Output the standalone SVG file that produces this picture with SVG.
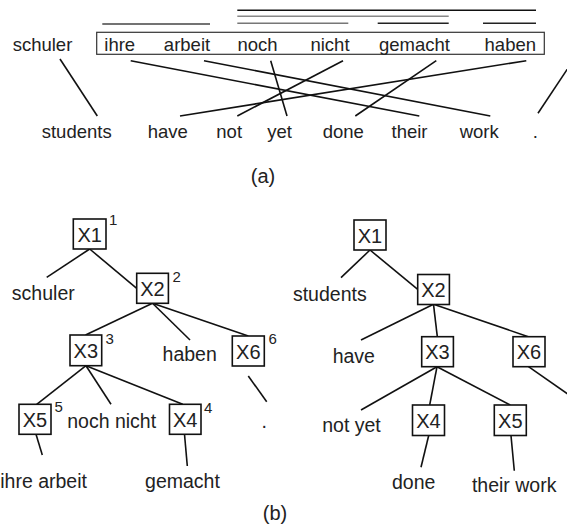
<svg xmlns="http://www.w3.org/2000/svg" width="567" height="525" viewBox="0 0 567 525">
<style>
text{font-family:"Liberation Sans",Arial,sans-serif;fill:#222;text-anchor:middle}
.a{font-size:18.5px}
.t{font-size:19.5px}
.bx{font-size:20px}
.sup{font-size:15px;text-anchor:start}
.cap{font-size:20px}
.box{fill:#fff;stroke:#111;stroke-width:1.6}
.c line{stroke:#111;stroke-width:1.6;fill:none}
.ov line{stroke-width:1.4}
</style>
<rect width="567" height="525" fill="#fff"/>
<!-- part (a) -->
<g id="source-box"><rect x="96.7" y="32.3" width="447.6" height="22" fill="none" stroke="#333" stroke-width="1.2"/></g>
<g id="overlines" class="ov">
<line x1="102.3" y1="24" x2="210" y2="24" stroke="#444"/>
<line x1="237.3" y1="10.3" x2="536" y2="10.3" stroke="#111"/>
<line x1="237.3" y1="16.3" x2="448.7" y2="16.3" stroke="#888" stroke-width="2"/>
<line x1="237.3" y1="23.3" x2="348.3" y2="23.3" stroke="#777" stroke-width="1.8"/>
<line x1="377.7" y1="23.3" x2="448.7" y2="23.3" stroke="#222"/>
<line x1="483" y1="23.3" x2="536" y2="23.3" stroke="#222"/>
</g>
<g id="src-words" class="a">
<text id="w-schuler" x="42.5" y="50.7">schuler</text>
<text id="w-ihre" x="119.7" y="50.7">ihre</text>
<text id="w-arbeit" x="187" y="50.7">arbeit</text>
<text id="w-noch" x="257.5" y="50.7">noch</text>
<text id="w-nicht" x="330" y="50.7">nicht</text>
<text id="w-gemacht" x="414.5" y="50.7">gemacht</text>
<text id="w-haben" x="510.3" y="50.7">haben</text>
</g>
<g id="tgt-words" class="a">
<text id="w-students" x="76.7" y="137.7">students</text>
<text id="w-have" x="167.8" y="137.7">have</text>
<text id="w-not" x="229.2" y="137.7">not</text>
<text id="w-yet" x="279.5" y="137.7">yet</text>
<text id="w-done" x="343.3" y="137.7">done</text>
<text id="w-their" x="409.5" y="137.7">their</text>
<text id="w-work" x="479.2" y="137.7">work</text>
<text id="w-dot" x="535.3" y="137.7">.</text>
</g>
<g id="alignments" class="c">
<line x1="60" y1="59" x2="97.3" y2="116"/>
<line x1="130.7" y1="60.7" x2="419.3" y2="116"/>
<line x1="204" y1="60.7" x2="490.3" y2="116"/>
<line x1="270.7" y1="60.7" x2="287" y2="116"/>
<line x1="343" y1="60.7" x2="237.3" y2="116"/>
<line x1="436.3" y1="60.7" x2="355.3" y2="116"/>
<line x1="526.3" y1="60.7" x2="180" y2="116"/>
<line x1="572.9" y1="60.7" x2="538" y2="113.3"/>
</g>
<text id="cap-a" class="cap" x="263" y="183">(a)</text>
<!-- part (b) left tree -->
<g id="left-tree-edges" class="c">
<line x1="89.7" y1="249" x2="46.7" y2="277.3"/>
<line x1="89.7" y1="249" x2="136.7" y2="288.3"/>
<line x1="152.5" y1="303.3" x2="85.5" y2="335"/>
<line x1="152.5" y1="303.3" x2="190" y2="340"/>
<line x1="152.5" y1="303.3" x2="248.3" y2="336"/>
<line x1="86" y1="365.7" x2="36.7" y2="404.3"/>
<line x1="86" y1="365.7" x2="111" y2="404.3"/>
<line x1="86" y1="365.7" x2="182.7" y2="404.3"/>
<line x1="36" y1="434.3" x2="42.3" y2="455"/>
<line x1="184.5" y1="434.3" x2="187.3" y2="466"/>
<line x1="248.3" y1="376" x2="266.7" y2="401.7"/>
</g>
<g id="L-X1"><rect class="box" x="73.3" y="219" width="32.7" height="30"/><text class="bx" x="89.7" y="241.5">X1</text><text class="sup" x="109" y="224.5">1</text></g>
<g id="L-X2"><rect class="box" x="136.7" y="273.3" width="31.7" height="30"/><text class="bx" x="152.5" y="295.8">X2</text><text class="sup" x="172.5" y="282">2</text></g>
<g id="L-X3"><rect class="box" x="70" y="335" width="31.7" height="30.7"/><text class="bx" x="85.8" y="357.5">X3</text><text class="sup" x="105.5" y="344">3</text></g>
<g id="L-X6"><rect class="box" x="232.3" y="336" width="32" height="30"/><text class="bx" x="248.3" y="358.5">X6</text><text class="sup" x="268.5" y="344">6</text></g>
<g id="L-X5"><rect class="box" x="19" y="404.3" width="32" height="30"/><text class="bx" x="35" y="426.8">X5</text><text class="sup" x="54.5" y="412">5</text></g>
<g id="L-X4"><rect class="box" x="169.5" y="404.3" width="31.5" height="30"/><text class="bx" x="185.2" y="426.8">X4</text><text class="sup" x="204" y="413">4</text></g>
<g id="left-leaves" class="t">
<text x="43.3" y="300">schuler</text>
<text x="189.7" y="361">haben</text>
<text x="111.7" y="427.7">noch nicht</text>
<text x="43.6" y="488.3">ihre arbeit</text>
<text x="182.5" y="487.7">gemacht</text>
<text x="264.3" y="428">.</text>
</g>
<!-- right tree -->
<g id="right-tree-edges" class="c">
<line x1="370" y1="250" x2="341" y2="277.7"/>
<line x1="370" y1="250" x2="417.7" y2="289.3"/>
<line x1="433.5" y1="304.3" x2="361" y2="340"/>
<line x1="433.5" y1="304.3" x2="437.3" y2="336.7"/>
<line x1="433.5" y1="304.3" x2="528.3" y2="336.7"/>
<line x1="437" y1="366.7" x2="361" y2="410"/>
<line x1="437" y1="366.7" x2="429.7" y2="405"/>
<line x1="437" y1="366.7" x2="510.3" y2="405"/>
<line x1="528.5" y1="366.7" x2="576" y2="399.7"/>
<line x1="428.7" y1="435.5" x2="421" y2="467.3"/>
<line x1="511" y1="435.5" x2="514.3" y2="470.7"/>
</g>
<g id="R-X1"><rect class="box" x="354" y="220" width="32" height="30"/><text class="bx" x="370" y="242.5">X1</text></g>
<g id="R-X2"><rect class="box" x="417.7" y="274.5" width="31.7" height="30"/><text class="bx" x="433.5" y="297">X2</text></g>
<g id="R-X3"><rect class="box" x="421.7" y="336.7" width="31.7" height="30"/><text class="bx" x="437.5" y="359.2">X3</text></g>
<g id="R-X6"><rect class="box" x="513" y="336.7" width="32" height="30"/><text class="bx" x="529" y="359.2">X6</text></g>
<g id="R-X4"><rect class="box" x="412.5" y="405" width="32" height="30.5"/><text class="bx" x="428.5" y="427.5">X4</text></g>
<g id="R-X5"><rect class="box" x="494.3" y="405" width="32" height="30.5"/><text class="bx" x="510.3" y="427.5">X5</text></g>
<g id="right-leaves" class="t">
<text x="329.8" y="300.7">students</text>
<text x="353.8" y="362.7">have</text>
<text x="351.5" y="431.7">not yet</text>
<text x="413.7" y="489">done</text>
<text x="514.2" y="491.7">their work</text>
</g>
<text id="cap-b" class="cap" x="275" y="520">(b)</text>
</svg>
